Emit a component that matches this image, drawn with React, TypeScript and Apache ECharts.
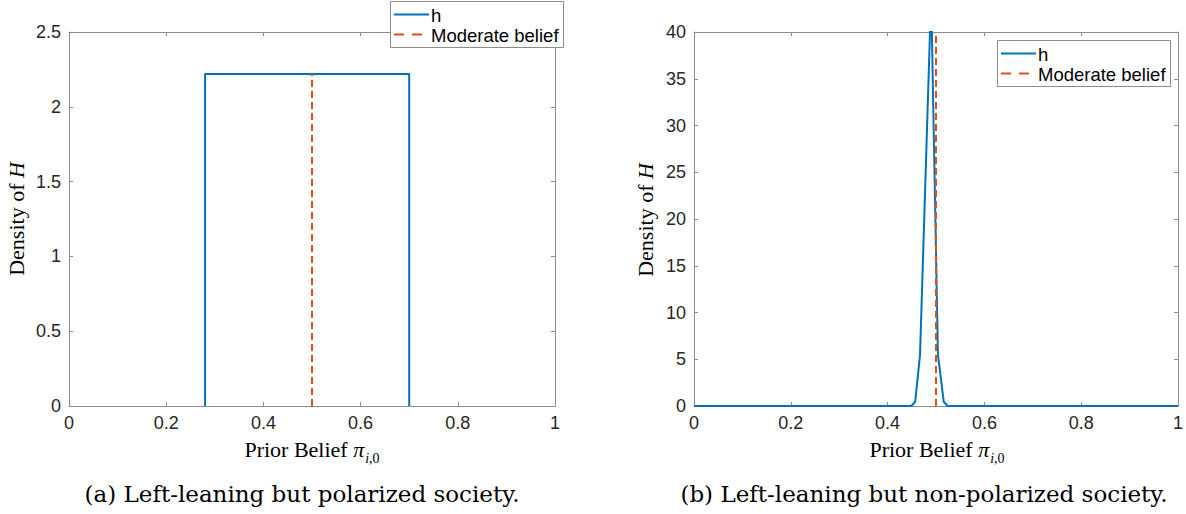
import React, { useEffect, useRef } from "react";
import * as echarts from "echarts";

// ---- data ----
const xTicks = { min: 0, max: 1, interval: 0.2 };
const yTicksA = { min: 0, max: 2.5, interval: 0.5 };
const yTicksB = { min: 0, max: 40, interval: 5 };

// panel (a): uniform density on [0.28, 0.70]
const hAX = [0.28, 0.28, 0.7, 0.7];
const hAY = [0, 2.22, 2.22, 0];

// panel (b): narrow peak near 0.49 (clipped above 40)
const hBX = [0, 0.449, 0.457, 0.467, 0.49, 0.504, 0.516, 0.524, 1];
const hBY = [0, 0, 0.45, 5.5, 44, 5.5, 0.45, 0, 0];

const moderateBelief = 0.5;
const moderateTopA = 2.22;
const moderateTopB = 40;

const seriesNames = ["h", "Moderate belief"];
const captions = [
  "(a) Left-leaning but polarized society.",
  "(b) Left-leaning but non-polarized society.",
];

const BLUE = "#0072BD";
const RED = "#D95319";
const AXIS = "#8c8c8c";
const TICKTXT = "#262626";
const SANS = "Liberation Sans, Arial, Helvetica, sans-serif";
const SERIF = "Liberation Serif, Times New Roman, serif";
const CAPSERIF = "DejaVu Serif, serif";

function xAxis(gridIndex: number, position: "top" | "bottom") {
  return {
    type: "value",
    gridIndex,
    position,
    min: xTicks.min,
    max: xTicks.max,
    interval: xTicks.interval,
    axisLine: { show: true, onZero: false, lineStyle: { color: AXIS, width: 1 } },
    axisTick: { show: true, inside: true, length: 4, lineStyle: { color: AXIS } },
    axisLabel: {
      show: position === "bottom",
      color: TICKTXT,
      fontSize: 18,
      fontFamily: SANS,
      margin: 8,
    },
    splitLine: { show: false },
  };
}

function yAxis(gridIndex: number, position: "left" | "right", t: { min: number; max: number; interval: number }) {
  return {
    type: "value",
    gridIndex,
    position,
    min: t.min,
    max: t.max,
    interval: t.interval,
    axisLine: { show: true, onZero: false, lineStyle: { color: AXIS, width: 1 } },
    axisTick: { show: true, inside: true, length: 4, lineStyle: { color: AXIS } },
    axisLabel: {
      show: position === "left",
      color: TICKTXT,
      fontSize: 18,
      fontFamily: SANS,
      margin: 8,
    },
    splitLine: { show: false },
  };
}

function legendBox(x0: number, y0: number) {
  const w = 173;
  const h = 46;
  const Z = 100;
  return {
    type: "group",
    x: x0,
    y: y0,
    z: Z,
    children: [
      {
        type: "rect",
        z: Z,
        shape: { x: 0.5, y: 0.5, width: w, height: h },
        style: { fill: "#ffffff", stroke: AXIS, lineWidth: 1 },
      },
      {
        type: "line",
        z: Z + 1,
        shape: { x1: 4, y1: 13.5, x2: 39, y2: 13.5 },
        style: { stroke: BLUE, lineWidth: 2 },
      },
      {
        type: "text",
        z: Z + 1,
        x: 41,
        y: 14,
        style: { text: seriesNames[0], fontFamily: SANS, fontSize: 18.5, fill: "#000", verticalAlign: "middle" },
      },
      {
        type: "line",
        z: Z + 1,
        shape: { x1: 4, y1: 33.5, x2: 39, y2: 33.5 },
        style: { stroke: RED, lineWidth: 2, lineDash: [10, 8] },
      },
      {
        type: "text",
        z: Z + 1,
        x: 41,
        y: 34,
        style: { text: seriesNames[1], fontFamily: SANS, fontSize: 18.5, fill: "#000", verticalAlign: "middle" },
      },
    ],
  };
}

function zip(xs: number[], ys: number[]) {
  return xs.map((x, i) => [x, ys[i]]);
}

function yTitle(x: number, y: number) {
  return {
    type: "text",
    x,
    y,
    rotation: Math.PI / 2,
    style: {
      text: "{n|Density of }{i|H}",
      align: "center",
      verticalAlign: "middle",
      rich: {
        n: { fontFamily: SERIF, fontSize: 22, color: "#404040" },
        i: { fontFamily: SERIF, fontSize: 22, fontStyle: "italic", color: "#404040" },
      },
    },
  };
}

function xTitle(x: number, y: number) {
  return {
    type: "text",
    x,
    y,
    style: {
      text: "{n|Prior Belief }{p|π}{s|i}{t|,0}",
      align: "center",
      verticalAlign: "middle",
      rich: {
        n: { fontFamily: SERIF, fontSize: 22, lineHeight: 26, verticalAlign: "top", color: "#404040" },
        p: { fontFamily: SERIF, fontSize: 22, fontStyle: "italic", lineHeight: 26, verticalAlign: "top", color: "#404040" },
        s: { fontFamily: SERIF, fontSize: 14, fontStyle: "italic", lineHeight: 14, padding: [13, 0, 0, 1], verticalAlign: "top", color: "#404040" },
        t: { fontFamily: SERIF, fontSize: 14, lineHeight: 14, padding: [13, 0, 0, 0], verticalAlign: "top", color: "#404040" },
      },
    },
  };
}

function caption(x: number, y: number, text: string) {
  return {
    type: "text",
    x,
    y,
    style: {
      text,
      align: "center",
      verticalAlign: "middle",
      fontFamily: CAPSERIF,
      fontSize: 23,
      fill: "#000",
    },
  };
}

export default function App() {
  const ref = useRef<HTMLDivElement>(null);
  useEffect(() => {
    if (!ref.current) return;
    const chart = echarts.init(ref.current, null, { renderer: "svg" });
    const option: any = {
      animation: false,
      backgroundColor: "#ffffff",
      grid: [
        { left: 69, top: 32, width: 486, height: 374, containLabel: false },
        { left: 694, top: 32, width: 485, height: 374, containLabel: false },
      ],
      xAxis: [xAxis(0, "bottom"), xAxis(0, "top"), xAxis(1, "bottom"), xAxis(1, "top")],
      yAxis: [
        yAxis(0, "left", yTicksA),
        yAxis(0, "right", yTicksA),
        yAxis(1, "left", yTicksB),
        yAxis(1, "right", yTicksB),
      ],
      series: [
        {
          name: seriesNames[0],
          type: "line",
          xAxisIndex: 0,
          yAxisIndex: 0,
          data: zip(hAX, hAY),
          symbol: "none",
          lineStyle: { color: BLUE, width: 2 },
          itemStyle: { color: BLUE },
          clip: true,
        },
        {
          name: seriesNames[1],
          type: "line",
          xAxisIndex: 0,
          yAxisIndex: 0,
          data: [
            [moderateBelief, 0],
            [moderateBelief, moderateTopA],
          ],
          symbol: "none",
          lineStyle: { color: RED, width: 2, type: [7, 4] },
          itemStyle: { color: RED },
          clip: true,
        },
        {
          name: seriesNames[0],
          type: "line",
          xAxisIndex: 2,
          yAxisIndex: 2,
          data: zip(hBX, hBY),
          symbol: "none",
          lineStyle: { color: BLUE, width: 2 },
          itemStyle: { color: BLUE },
          clip: true,
        },
        {
          name: seriesNames[1],
          type: "line",
          xAxisIndex: 2,
          yAxisIndex: 2,
          data: [
            [moderateBelief, 0],
            [moderateBelief, moderateTopB],
          ],
          symbol: "none",
          lineStyle: { color: RED, width: 2, type: [7, 4] },
          itemStyle: { color: RED },
          clip: true,
        },
      ],
      graphic: [
        legendBox(390, 1),
        legendBox(997, 40),
        yTitle(16, 219),
        yTitle(645, 220),
        xTitle(312, 451),
        xTitle(937, 451),
        caption(302, 494, captions[0]),
        caption(924, 494, captions[1]),
      ],
    };
    chart.setOption(option);
    return () => chart.dispose();
  }, []);
  return (
    <div
      ref={ref}
      style={{ position: "absolute", left: 0, top: 0, width: 1186, height: 514, background: "#fff" }}
    />
  );
}
